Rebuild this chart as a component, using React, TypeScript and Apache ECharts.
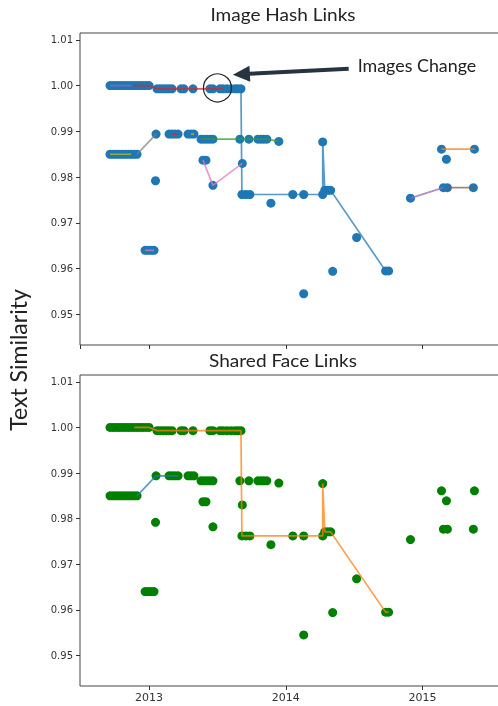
import React, { useEffect, useRef } from 'react';
import * as echarts from 'echarts';

// ---------- data (x = fractional year, y = text similarity) ----------
const ROW_A: [number, number][] = [
  [2012.715, 1.0], [2012.737, 1.0], [2012.759, 1.0], [2012.781, 1.0], [2012.803, 1.0],
  [2012.825, 1.0], [2012.847, 1.0], [2012.869, 1.0], [2012.891, 1.0], [2012.912, 1.0],
  [2012.934, 1.0], [2012.956, 1.0], [2012.978, 1.0], [2013.0, 1.0],
];
const ROW_A2: [number, number][] = [
  [2013.058, 0.9993], [2013.08, 0.9993], [2013.102, 0.9993], [2013.124, 0.9993], [2013.146, 0.9993],
  [2013.168, 0.9993], [2013.234, 0.9993], [2013.255, 0.9993], [2013.321, 0.9993], [2013.445, 0.9993],
  [2013.467, 0.9993], [2013.518, 0.9993], [2013.54, 0.9993], [2013.569, 0.9993], [2013.599, 0.9993],
  [2013.628, 0.9993], [2013.65, 0.9993], [2013.672, 0.9993],
];
const ROW_B: [number, number][] = [
  [2012.715, 0.985], [2012.737, 0.985], [2012.759, 0.985], [2012.781, 0.985], [2012.803, 0.985],
  [2012.825, 0.985], [2012.847, 0.985], [2012.869, 0.985], [2012.891, 0.985], [2012.912, 0.985],
];
const ROW_C: [number, number][] = [
  [2013.051, 0.9894], [2013.146, 0.9894], [2013.168, 0.9894], [2013.19, 0.9894],
  [2013.212, 0.9894], [2013.285, 0.9894], [2013.307, 0.9894], [2013.328, 0.9894],
];
const ROW_D: [number, number][] = [
  [2013.38, 0.9883], [2013.401, 0.9883], [2013.423, 0.9883], [2013.445, 0.9883], [2013.467, 0.9883],
  [2013.664, 0.9883], [2013.73, 0.9883], [2013.796, 0.9883], [2013.818, 0.9883], [2013.839, 0.9883],
  [2013.861, 0.9883], [2013.949, 0.9878],
];
const ROW_E: [number, number][] = [
  [2012.971, 0.964], [2012.993, 0.964], [2013.015, 0.964], [2013.036, 0.964],
];
const ROW_F: [number, number][] = [
  [2013.679, 0.9762], [2013.708, 0.9762], [2013.737, 0.9762],
];
const SCATTERED: [number, number][] = [
  [2013.047, 0.9792], [2013.394, 0.9837], [2013.416, 0.9837], [2013.467, 0.9782], [2013.682, 0.983],
  [2013.891, 0.9743], [2014.051, 0.9762], [2014.131, 0.9762], [2014.27, 0.9762], [2014.27, 0.9877],
  [2014.285, 0.9771], [2014.307, 0.9771], [2014.328, 0.9771], [2014.518, 0.9668], [2014.343, 0.9594],
  [2014.131, 0.9545], [2014.73, 0.9595], [2014.752, 0.9595], [2014.912, 0.9754], [2015.139, 0.9861],
  [2015.38, 0.9861], [2015.175, 0.9839], [2015.153, 0.9777], [2015.182, 0.9777], [2015.372, 0.9777],
];
const ALL_POINTS = [...ROW_A, ...ROW_A2, ...ROW_B, ...ROW_C, ...ROW_D, ...ROW_E, ...ROW_F, ...SCATTERED];

// chain after the big drop (shared by both panels)
const DROP_CHAIN: [number, number][] = [
  [2013.672, 0.9993], [2013.679, 0.9762], [2013.708, 0.9762], [2013.737, 0.9762], [2014.051, 0.9762],
  [2014.131, 0.9762], [2014.27, 0.9762], [2014.27, 0.9877], [2014.285, 0.9771], [2014.307, 0.9771],
  [2014.328, 0.9771], [2014.73, 0.9595], [2014.752, 0.9595],
];

// top panel link segments
const TOP_LINKS: { color: string; pts: [number, number][] }[] = [
  { color: '#9467bd', pts: ROW_A.slice(0, 8) },
  { color: '#d62728', pts: [...ROW_A.slice(8), ...ROW_A2.slice(0, 13)] },
  { color: '#1f77b4', pts: DROP_CHAIN },
  { color: '#bcbd22', pts: ROW_B.slice(0, 8) },
  { color: '#7f7f7f', pts: [ROW_B[9], ROW_C[0]] },
  { color: '#d62728', pts: ROW_C.slice(2, 5) },
  { color: '#bcbd22', pts: ROW_C.slice(6, 8) },
  { color: '#2ca02c', pts: ROW_D },
  { color: '#e377c2', pts: ROW_E },
  { color: '#e377c2', pts: [[2013.394, 0.9837], [2013.467, 0.9782], [2013.682, 0.983]] },
  { color: '#ff7f0e', pts: [[2015.139, 0.9861], [2015.38, 0.9861]] },
  { color: '#9467bd', pts: [[2014.912, 0.9754], [2015.153, 0.9777]] },
  { color: '#8c564b', pts: [[2015.182, 0.9777], [2015.372, 0.9777]] },
];

// bottom panel link segments
const BOTTOM_LINKS: { color: string; pts: [number, number][] }[] = [
  { color: '#ff7f0e', pts: [...ROW_A.slice(8), ...ROW_A2, ...DROP_CHAIN.slice(1)] },
  { color: '#1f77b4', pts: [ROW_B[9], ...ROW_C.slice(0, 5)] },
];

const PANEL_TITLES = ['Image Hash Links', 'Shared Face Links'];
const Y_LABEL = 'Text Similarity';
const ANNOTATION = 'Images Change';
const CIRCLE_AT: [number, number] = [2013.5, 0.9995];
const ARROW_TIP: [number, number] = [2013.613, 1.0024];
const ARROW_TAIL: [number, number] = [2014.46, 1.0037];
const TEXT_AT: [number, number] = [2014.526, 1.0044];

const X_RANGE: [number, number] = [2012.496, 2015.64];
const Y_RANGE: [number, number] = [0.9433, 1.0115];

const toTs = (y: number) => {
  const yr = Math.floor(y);
  const s = Date.UTC(yr, 0, 1);
  const e = Date.UTC(yr + 1, 0, 1);
  return s + (y - yr) * (e - s);
};
const conv = (arr: [number, number][]) => arr.map(([x, v]) => [toTs(x), v]);

export default function App() {
  const ref = useRef<HTMLDivElement>(null);
  useEffect(() => {
    const chart = echarts.init(ref.current!, undefined, { renderer: 'svg' });
    const grids = [
      { left: 80, top: 33, width: 430, height: 312 },
      { left: 80, top: 375, width: 430, height: 311 },
    ].map((g) => ({ ...g, show: true, borderColor: '#444', borderWidth: 1, backgroundColor: 'transparent' }));

    const xAxes = [0, 1].map((i) => ({
      type: 'time',
      gridIndex: i,
      min: toTs(X_RANGE[0]),
      max: toTs(X_RANGE[1]),
      splitNumber: 3,
      minInterval: 360 * 86400000,
      axisLine: { show: false },
      axisTick: { show: true, length: 4, lineStyle: { color: '#333' } },
      splitLine: { show: false },
      axisLabel: {
        show: i === 1,
        formatter: (v: number) => String(new Date(v).getUTCFullYear()),
        fontSize: 11,
        color: '#333',
        fontFamily: 'DejaVu Sans',
        margin: 6,
      },
    }));
    const yAxes = [0, 1].map((i) => ({
      type: 'value',
      gridIndex: i,
      min: Y_RANGE[0],
      max: Y_RANGE[1],
      splitNumber: 7,
      axisLine: { show: false },
      axisTick: { show: true, length: 4, lineStyle: { color: '#333' } },
      splitLine: { show: false },
      axisLabel: {
        showMinLabel: false,
        showMaxLabel: false,
        formatter: (v: number) => (Math.abs(v * 100 - Math.round(v * 100)) < 1e-6 ? v.toFixed(2) : ''),
        fontSize: 10,
        color: '#333',
        fontFamily: 'DejaVu Sans',
        margin: 7,
      },
    }));

    const series: any[] = [];
    [0, 1].forEach((i) => {
      series.push({
        type: 'scatter',
        xAxisIndex: i,
        yAxisIndex: i,
        data: conv(ALL_POINTS),
        symbolSize: 9,
        itemStyle: { color: i === 0 ? '#1f77b4' : '#008000', opacity: 1 },
        z: 2,
      });
      (i === 0 ? TOP_LINKS : BOTTOM_LINKS).forEach((l) => {
        series.push({
          type: 'line',
          xAxisIndex: i,
          yAxisIndex: i,
          data: conv(l.pts),
          showSymbol: false,
          symbol: 'none',
          lineStyle: { color: l.color, width: 1.7, opacity: 0.75 },
          z: 3,
        });
      });
    });

    chart.setOption({
      animation: false,
      useUTC: true,
      grid: grids,
      xAxis: xAxes,
      yAxis: yAxes,
      series,
    });

    const px = (p: [number, number]) => chart.convertToPixel({ gridIndex: 0 }, [toTs(p[0]), p[1]]) as number[];
    const c = px(CIRCLE_AT);
    const tip = px(ARROW_TIP);
    const tail = px(ARROW_TAIL);
    const tp = px(TEXT_AT);
    const dx = tip[0] - tail[0];
    const dy = tip[1] - tail[1];
    const len = Math.hypot(dx, dy);
    const ux = dx / len;
    const uy = dy / len;
    const headLen = 17;
    const headHalf = 8;
    const bx = tip[0] - ux * headLen;
    const by = tip[1] - uy * headLen;
    const arrowColor = '#253440';

    const g0 = grids[0];
    const g1 = grids[1];
    const titleX = 283;

    chart.setOption({
      graphic: [
        {
          type: 'text',
          x: titleX,
          y: g0.top - 19,
          scaleX: 1.12,
          style: { text: PANEL_TITLES[0], font: '17px Lato', fill: '#222', textAlign: 'center', textVerticalAlign: 'middle' },
        },
        {
          type: 'text',
          x: titleX,
          y: g1.top - 15,
          scaleX: 1.12,
          style: { text: PANEL_TITLES[1], font: '17px Lato', fill: '#222', textAlign: 'center', textVerticalAlign: 'middle' },
        },
        {
          type: 'text',
          x: 18,
          y: 360,
          rotation: Math.PI / 2,
          style: { text: Y_LABEL, font: '23px Lato', fill: '#222', textAlign: 'center', textVerticalAlign: 'middle' },
        },
        {
          type: 'circle',
          shape: { cx: c[0], cy: c[1], r: 14 },
          style: { fill: 'none', stroke: '#222', lineWidth: 1.2 },
          z: 10,
        },
        {
          type: 'line',
          shape: { x1: tail[0], y1: tail[1], x2: bx + ux * 2, y2: by + uy * 2 },
          style: { stroke: arrowColor, lineWidth: 4 },
          z: 10,
        },
        {
          type: 'polygon',
          shape: {
            points: [
              [tip[0], tip[1]],
              [bx - uy * headHalf, by + ux * headHalf],
              [bx + uy * headHalf, by - ux * headHalf],
            ],
          },
          style: { fill: arrowColor },
          z: 10,
        },
        {
          type: 'text',
          x: tp[0],
          y: tp[1],
          scaleX: 1.05,
          style: { text: ANNOTATION, font: '17px Lato', fill: '#222', textAlign: 'left', textVerticalAlign: 'middle' },
          z: 10,
        },
      ],
    });

    return () => chart.dispose();
  }, []);
  return (
    <div style={{ position: 'fixed', left: 0, top: 0, width: 498, height: 706, overflow: 'hidden' }}>
      <div ref={ref} style={{ width: 520, height: 706 }} />
    </div>
  );
}
